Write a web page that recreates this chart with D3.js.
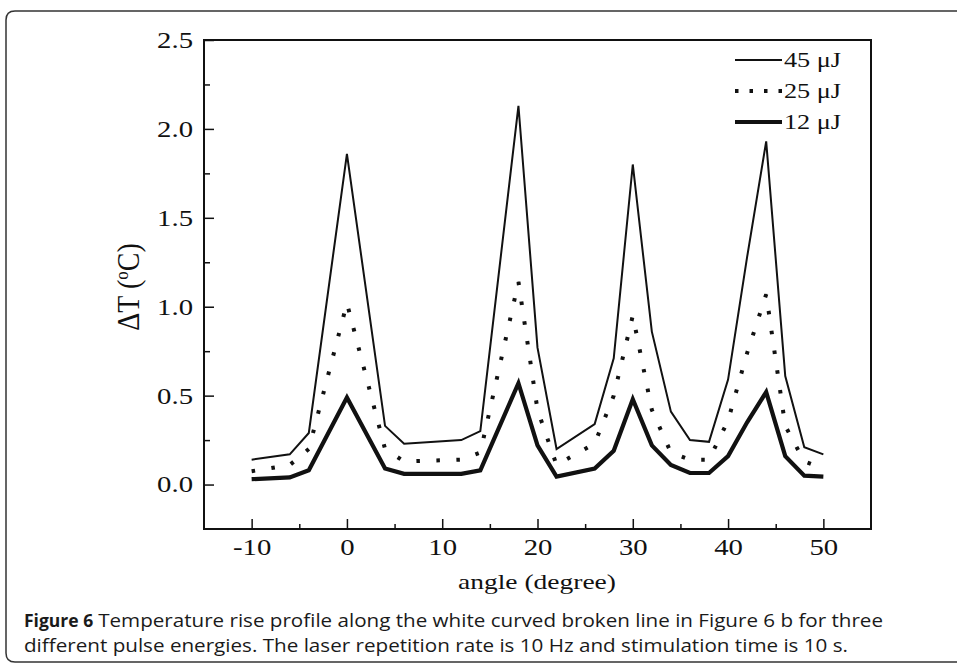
<!DOCTYPE html>
<html>
<head>
<meta charset="utf-8">
<script src="https://cdn.jsdelivr.net/npm/d3@7/dist/d3.min.js"></script>
<style>
  body { margin: 0; background: #fff; }
  .axis text { font-family: "Liberation Serif", "Times New Roman", serif; font-size: 23px; fill: #111; }
  .axis line { stroke: #111; stroke-width: 1.5; }
  .axis path { display: none; }
  .serif { font-family: "Liberation Serif", "Times New Roman", serif; fill: #111; }
  .caption { font-family: "Open Sans", sans-serif; font-size: 17.5px; font-weight: 500; fill: #1a1a1a; }
</style>
</head>
<body>
<svg id="chart" width="957" height="667"></svg>
<script>
// angle (degree) sampled along the broken line
const angle = [-10, -6, -4, 0, 4, 6, 12, 14, 18, 20, 22, 26, 28, 30, 32, 34, 36, 38, 40, 42, 44, 46, 48, 50];
// temperature rise (°C) for each pulse energy
const dt45 = [0.14, 0.17, 0.29, 1.86, 0.33, 0.23, 0.25, 0.30, 2.13, 0.77, 0.20, 0.34, 0.71, 1.80, 0.86, 0.41, 0.25, 0.24, 0.59, 1.28, 1.93, 0.61, 0.21, 0.17];
const dt25 = [0.075, 0.11, 0.20, 1.02, 0.20, 0.13, 0.14, 0.18, 1.14, 0.42, 0.11, 0.23, 0.50, 0.95, 0.42, 0.18, 0.14, 0.14, 0.36, 0.74, 1.07, 0.33, 0.13, 0.09];
const dt12 = [0.03, 0.04, 0.08, 0.49, 0.09, 0.06, 0.06, 0.08, 0.57, 0.22, 0.045, 0.09, 0.19, 0.48, 0.22, 0.11, 0.065, 0.065, 0.16, 0.35, 0.52, 0.16, 0.05, 0.045];
const seriesNames = ['45 \u03bcJ', '25 \u03bcJ', '12 \u03bcJ'];
const xTicks = [-10, 0, 10, 20, 30, 40, 50];
const xMinor = [-5, 5, 15, 25, 35, 45];
const yTicks = [0, 0.5, 1.0, 1.5, 2.0, 2.5];
const yMinor = [0.25, 0.75, 1.25, 1.75, 2.25];

const stretch = 1.25; // the original figure is drawn a bit wide

const svg = d3.select('#chart');

// rounded figure box
svg.append('path')
    .attr('d', 'M 970 11 L 15 11 Q 6 11 6 20 L 6 653 Q 6 662 15 662 L 970 662')
    .attr('fill', 'none')
    .attr('stroke', '#333')
    .attr('stroke-width', 1.5);

const margin = {left: 204, top: 40, right: 871, bottom: 529};

let xScale = d3.scaleLinear().domain([-15, 55]).range([margin.left, margin.right]);
let yScale = d3.scaleLinear().domain([-0.25, 2.5]).range([margin.bottom, margin.top]);

// x axis, ticks pointing inward
svg.append('g')
    .attr('class', 'x axis')
    .attr('transform', 'translate(0,' + margin.bottom + ')')
    .call(d3.axisBottom(xScale).tickValues(xTicks).tickSize(-10).tickPadding(10)
        .tickFormat(function(d){ return String(d); }))
    .selectAll('text')
        .attr('transform', 'scale(' + stretch + ',1)');
svg.append('g')
    .attr('class', 'x axis')
    .attr('transform', 'translate(0,' + margin.bottom + ')')
    .call(d3.axisBottom(xScale).tickValues(xMinor).tickSize(-5).tickFormat(''));

svg.append('g')
    .attr('class', 'y axis')
    .attr('transform', 'translate(' + margin.left + ',0)')
    .call(d3.axisLeft(yScale).tickValues(yTicks).tickSize(-10).tickPadding(11)
        .tickFormat(d3.format('.1f')))
    .selectAll('text')
        .attr('x', -11 / stretch)
        .attr('transform', 'scale(' + stretch + ',1)');
svg.append('g')
    .attr('class', 'y axis')
    .attr('transform', 'translate(' + margin.left + ',0)')
    .call(d3.axisLeft(yScale).tickValues(yMinor).tickSize(-6).tickFormat(''));

// frame
svg.append('rect')
    .attr('x', margin.left).attr('y', margin.top)
    .attr('width', margin.right - margin.left)
    .attr('height', margin.bottom - margin.top)
    .attr('fill', 'none')
    .attr('stroke', '#111')
    .attr('stroke-width', 2);

const series = [
    {name: seriesNames[0], values: dt45, width: 2, dash: null, legendDash: null},
    {name: seriesNames[1], values: dt25, width: 4, dash: '3.5,16.5', legendDash: '3.5,11'},
    {name: seriesNames[2], values: dt12, width: 4.2, dash: null, legendDash: null}
];

let line = d3.line()
    .x(function(d){ return xScale(d[0]); })
    .y(function(d){ return yScale(d[1]); });

svg.selectAll('path.series')
    .data(series).enter()
    .append('path')
    .attr('class', 'series')
    .attr('d', function(s){ return line(angle.map(function(a, i){ return [a, s.values[i]]; })); })
    .attr('fill', 'none')
    .attr('stroke', '#111')
    .attr('stroke-width', function(s){ return s.width; })
    .attr('stroke-dasharray', function(s){ return s.dash; })
    .attr('stroke-linejoin', 'miter');

// legend
let legend = svg.selectAll('g.legend')
    .data(series).enter()
    .append('g')
    .attr('class', 'legend')
    .attr('transform', function(d, i){ return 'translate(735,' + (60 + i * 31) + ')'; });

legend.append('line')
    .attr('x1', 0).attr('x2', 47)
    .attr('stroke', '#111')
    .attr('stroke-width', function(d){ return d.width; })
    .attr('stroke-dasharray', function(d){ return d.legendDash; });

legend.append('text')
    .attr('class', 'serif')
    .attr('x', 49 / stretch).attr('y', 7)
    .attr('transform', 'scale(' + stretch + ',1)')
    .style('font-size', '21px')
    .text(function(d){ return d.name; });

// axis titles
svg.append('text')
    .attr('class', 'serif')
    .attr('x', 537 / stretch).attr('y', 589)
    .attr('transform', 'scale(' + stretch + ',1)')
    .attr('text-anchor', 'middle')
    .style('font-size', '22px')
    .text('angle (degree)');

let yTitle = svg.append('text')
    .attr('class', 'serif')
    .attr('transform', 'translate(139,287)rotate(-90)scale(1,1.1)')
    .attr('text-anchor', 'middle')
    .style('font-size', '28px');
yTitle.append('tspan').text('\u0394T (');
yTitle.append('tspan').attr('dy', -10).style('font-size', '17px').text('o');
yTitle.append('tspan').attr('dy', 10).text('C)');

// caption: bold label, then the text squeezed to the original line width
const captionText = [
    'Temperature rise profile along the white curved broken line in Figure 6 b for three',
    'different pulse energies. The laser repetition rate is 10 Hz and stimulation time is 10 s.'
];
const captionEnds = [883, 848];
let label = svg.append('text')
    .attr('class', 'caption')
    .attr('x', 24).attr('y', 627)
    .style('font-weight', 'bold')
    .text('Figure 6');
let labelEnd = 24 + label.node().getComputedTextLength() + 5;
captionText.forEach(function(str, i){
    let start = i === 0 ? labelEnd : 24;
    svg.append('text')
        .attr('class', 'caption')
        .attr('x', start).attr('y', 627 + i * 25)
        .attr('textLength', captionEnds[i] - start)
        .attr('lengthAdjust', 'spacingAndGlyphs')
        .text(str);
});
</script>
</body>
</html>
